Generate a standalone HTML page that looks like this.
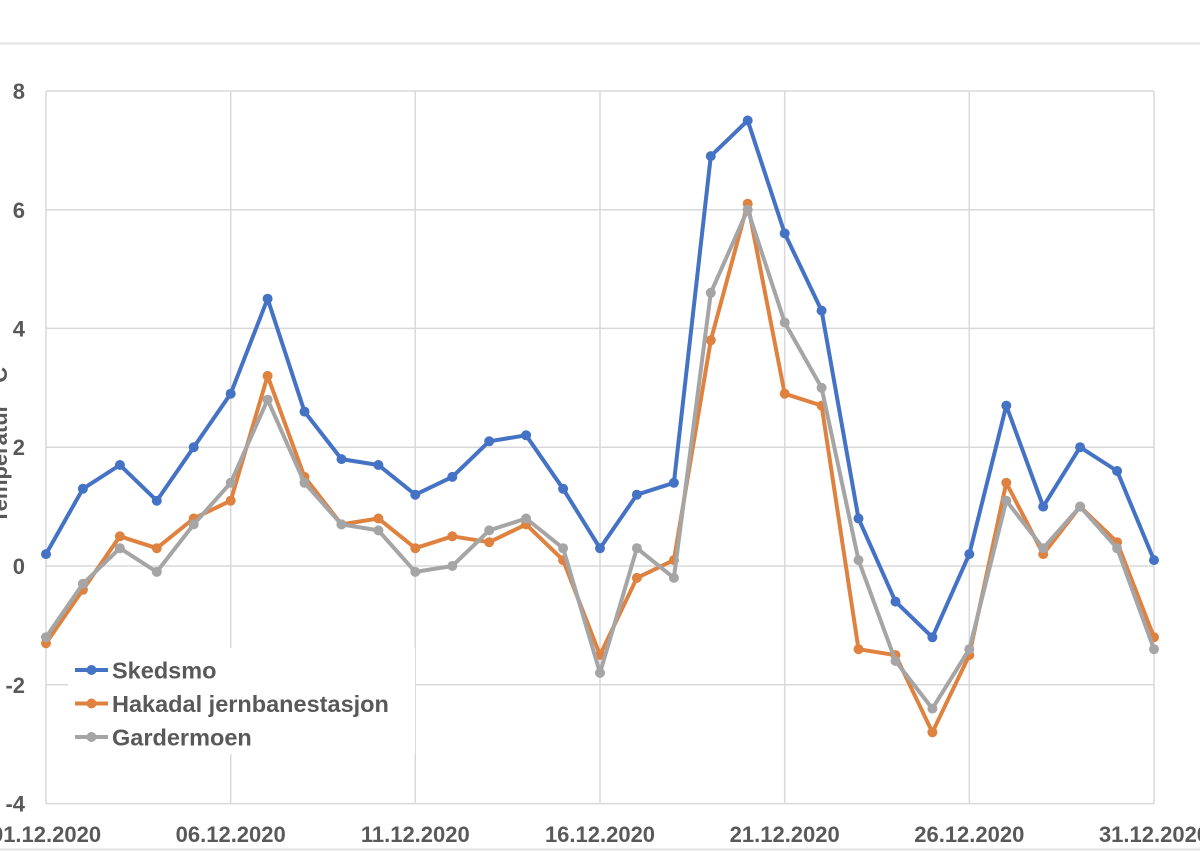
<!DOCTYPE html>
<html><head><meta charset="utf-8"><style>
html,body{margin:0;padding:0;background:#fff;}
svg{display:block;}
text{font-family:"Liberation Sans",Arial,sans-serif;font-weight:bold;fill:#595959;}
</style></head><body>
<svg width="1200" height="851" viewBox="0 0 1200 851" xmlns="http://www.w3.org/2000/svg">
<rect width="1200" height="851" fill="#fff"/>
<line x1="0" y1="43.5" x2="1200" y2="43.5" stroke="#e3e3e3" stroke-width="2"/>
<line x1="0" y1="849.5" x2="1200" y2="849.5" stroke="#e3e3e3" stroke-width="2"/>
<g stroke="#d9d9d9" stroke-width="1.5" fill="none">
<line x1="46" y1="91" x2="1154" y2="91"/>
<line x1="46" y1="209.8" x2="1154" y2="209.8"/>
<line x1="46" y1="328.4" x2="1154" y2="328.4"/>
<line x1="46" y1="447.2" x2="1154" y2="447.2"/>
<line x1="46" y1="566" x2="1154" y2="566"/>
<line x1="46" y1="684.8" x2="1154" y2="684.8"/>
<line x1="46" y1="803.6" x2="1154" y2="803.6"/>
<line x1="46" y1="91" x2="46" y2="803.6"/>
<line x1="230.7" y1="91" x2="230.7" y2="803.6"/>
<line x1="415.3" y1="91" x2="415.3" y2="803.6"/>
<line x1="600" y1="91" x2="600" y2="803.6"/>
<line x1="784.7" y1="91" x2="784.7" y2="803.6"/>
<line x1="969.3" y1="91" x2="969.3" y2="803.6"/>
<line x1="1154" y1="91" x2="1154" y2="803.6"/>
</g>
<g font-size="22" text-anchor="end">
<text x="25" y="99">8</text>
<text x="25" y="217.8">6</text>
<text x="25" y="336.4">4</text>
<text x="25" y="455.2">2</text>
<text x="25" y="574">0</text>
<text x="25" y="692.8">-2</text>
<text x="25" y="811.6">-4</text>
</g>
<g font-size="22" text-anchor="middle">
<text x="46" y="842">01.12.2020</text>
<text x="230.7" y="842">06.12.2020</text>
<text x="415.3" y="842">11.12.2020</text>
<text x="600" y="842">16.12.2020</text>
<text x="784.7" y="842">21.12.2020</text>
<text x="969.3" y="842">26.12.2020</text>
<text x="1154" y="842">31.12.2020</text>
</g>
<text font-size="22" text-anchor="middle" transform="translate(7,445) rotate(-90)">Temperatur ° C</text>

<g fill="none" stroke-width="4" stroke-linejoin="round">
<polyline stroke="#4472C4" points="46,554.1 82.9,488.8 119.9,465 156.8,500.7 193.7,447.2 230.7,393.7 267.6,298.7 304.5,411.6 341.5,459.1 378.4,465 415.3,494.7 452.3,476.9 489.2,441.3 526.1,435.3 563.1,488.8 600,548.2 636.9,494.7 673.9,482.8 710.8,156.1 747.7,120.5 784.7,233.4 821.6,310.6 858.5,518.5 895.5,601.6 932.4,637.3 969.3,554.1 1006.3,405.6 1043.2,506.6 1080.1,447.2 1117.1,471 1154,560.1"/>
</g>
<g fill="#4472C4">
<circle cx="46" cy="554.1" r="5"/><circle cx="82.9" cy="488.8" r="5"/><circle cx="119.9" cy="465" r="5"/><circle cx="156.8" cy="500.7" r="5"/><circle cx="193.7" cy="447.2" r="5"/><circle cx="230.7" cy="393.7" r="5"/><circle cx="267.6" cy="298.7" r="5"/><circle cx="304.5" cy="411.6" r="5"/><circle cx="341.5" cy="459.1" r="5"/><circle cx="378.4" cy="465" r="5"/><circle cx="415.3" cy="494.7" r="5"/><circle cx="452.3" cy="476.9" r="5"/><circle cx="489.2" cy="441.3" r="5"/><circle cx="526.1" cy="435.3" r="5"/><circle cx="563.1" cy="488.8" r="5"/><circle cx="600" cy="548.2" r="5"/><circle cx="636.9" cy="494.7" r="5"/><circle cx="673.9" cy="482.8" r="5"/><circle cx="710.8" cy="156.1" r="5"/><circle cx="747.7" cy="120.5" r="5"/><circle cx="784.7" cy="233.4" r="5"/><circle cx="821.6" cy="310.6" r="5"/><circle cx="858.5" cy="518.5" r="5"/><circle cx="895.5" cy="601.6" r="5"/><circle cx="932.4" cy="637.3" r="5"/><circle cx="969.3" cy="554.1" r="5"/><circle cx="1006.3" cy="405.6" r="5"/><circle cx="1043.2" cy="506.6" r="5"/><circle cx="1080.1" cy="447.2" r="5"/><circle cx="1117.1" cy="471" r="5"/><circle cx="1154" cy="560.1" r="5"/>
</g>

<g fill="none" stroke-width="4" stroke-linejoin="round">
<polyline stroke="#DF8240" points="46,643.2 82.9,589.8 119.9,536.3 156.8,548.2 193.7,518.5 230.7,500.7 267.6,375.9 304.5,476.9 341.5,524.4 378.4,518.5 415.3,548.2 452.3,536.3 489.2,542.2 526.1,524.4 563.1,560.1 600,655.1 636.9,577.9 673.9,560.1 710.8,340.3 747.7,203.7 784.7,393.7 821.6,405.6 858.5,649.2 895.5,655.1 932.4,732.3 969.3,655.1 1006.3,482.8 1043.2,554.1 1080.1,506.6 1117.1,542.2 1154,637.3"/>
</g>
<g fill="#DF8240">
<circle cx="46" cy="643.2" r="5"/><circle cx="82.9" cy="589.8" r="5"/><circle cx="119.9" cy="536.3" r="5"/><circle cx="156.8" cy="548.2" r="5"/><circle cx="193.7" cy="518.5" r="5"/><circle cx="230.7" cy="500.7" r="5"/><circle cx="267.6" cy="375.9" r="5"/><circle cx="304.5" cy="476.9" r="5"/><circle cx="341.5" cy="524.4" r="5"/><circle cx="378.4" cy="518.5" r="5"/><circle cx="415.3" cy="548.2" r="5"/><circle cx="452.3" cy="536.3" r="5"/><circle cx="489.2" cy="542.2" r="5"/><circle cx="526.1" cy="524.4" r="5"/><circle cx="563.1" cy="560.1" r="5"/><circle cx="600" cy="655.1" r="5"/><circle cx="636.9" cy="577.9" r="5"/><circle cx="673.9" cy="560.1" r="5"/><circle cx="710.8" cy="340.3" r="5"/><circle cx="747.7" cy="203.7" r="5"/><circle cx="784.7" cy="393.7" r="5"/><circle cx="821.6" cy="405.6" r="5"/><circle cx="858.5" cy="649.2" r="5"/><circle cx="895.5" cy="655.1" r="5"/><circle cx="932.4" cy="732.3" r="5"/><circle cx="969.3" cy="655.1" r="5"/><circle cx="1006.3" cy="482.8" r="5"/><circle cx="1043.2" cy="554.1" r="5"/><circle cx="1080.1" cy="506.6" r="5"/><circle cx="1117.1" cy="542.2" r="5"/><circle cx="1154" cy="637.3" r="5"/>
</g>

<g fill="none" stroke-width="4" stroke-linejoin="round">
<polyline stroke="#A5A5A5" points="46,637.3 82.9,583.8 119.9,548.2 156.8,571.9 193.7,524.4 230.7,482.8 267.6,399.7 304.5,482.8 341.5,524.4 378.4,530.4 415.3,571.9 452.3,566 489.2,530.4 526.1,518.5 563.1,548.2 600,672.9 636.9,548.2 673.9,577.9 710.8,292.8 747.7,209.6 784.7,322.5 821.6,387.8 858.5,560.1 895.5,661 932.4,708.6 969.3,649.2 1006.3,500.7 1043.2,548.2 1080.1,506.6 1117.1,548.2 1154,649.2"/>
</g>
<g fill="#A5A5A5">
<circle cx="46" cy="637.3" r="5"/><circle cx="82.9" cy="583.8" r="5"/><circle cx="119.9" cy="548.2" r="5"/><circle cx="156.8" cy="571.9" r="5"/><circle cx="193.7" cy="524.4" r="5"/><circle cx="230.7" cy="482.8" r="5"/><circle cx="267.6" cy="399.7" r="5"/><circle cx="304.5" cy="482.8" r="5"/><circle cx="341.5" cy="524.4" r="5"/><circle cx="378.4" cy="530.4" r="5"/><circle cx="415.3" cy="571.9" r="5"/><circle cx="452.3" cy="566" r="5"/><circle cx="489.2" cy="530.4" r="5"/><circle cx="526.1" cy="518.5" r="5"/><circle cx="563.1" cy="548.2" r="5"/><circle cx="600" cy="672.9" r="5"/><circle cx="636.9" cy="548.2" r="5"/><circle cx="673.9" cy="577.9" r="5"/><circle cx="710.8" cy="292.8" r="5"/><circle cx="747.7" cy="209.6" r="5"/><circle cx="784.7" cy="322.5" r="5"/><circle cx="821.6" cy="387.8" r="5"/><circle cx="858.5" cy="560.1" r="5"/><circle cx="895.5" cy="661" r="5"/><circle cx="932.4" cy="708.6" r="5"/><circle cx="969.3" cy="649.2" r="5"/><circle cx="1006.3" cy="500.7" r="5"/><circle cx="1043.2" cy="548.2" r="5"/><circle cx="1080.1" cy="506.6" r="5"/><circle cx="1117.1" cy="548.2" r="5"/><circle cx="1154" cy="649.2" r="5"/>
</g>

<rect x="68" y="648" width="347" height="106" fill="#fff"/>
<g stroke-width="4">
<line x1="75" y1="670" x2="108" y2="670" stroke="#4472C4"/>
<line x1="75" y1="703.5" x2="108" y2="703.5" stroke="#DF8240"/>
<line x1="75" y1="737" x2="108" y2="737" stroke="#A5A5A5"/>
</g>
<circle cx="91.5" cy="670" r="5" fill="#4472C4"/>
<circle cx="91.5" cy="703.5" r="5" fill="#DF8240"/>
<circle cx="91.5" cy="737" r="5" fill="#A5A5A5"/>
<g font-size="23.5">
<text x="112" y="678.5">Skedsmo</text>
<text x="112" y="712">Hakadal jernbanestasjon</text>
<text x="112" y="745.5">Gardermoen</text>
</g>
</svg>
</body></html>
